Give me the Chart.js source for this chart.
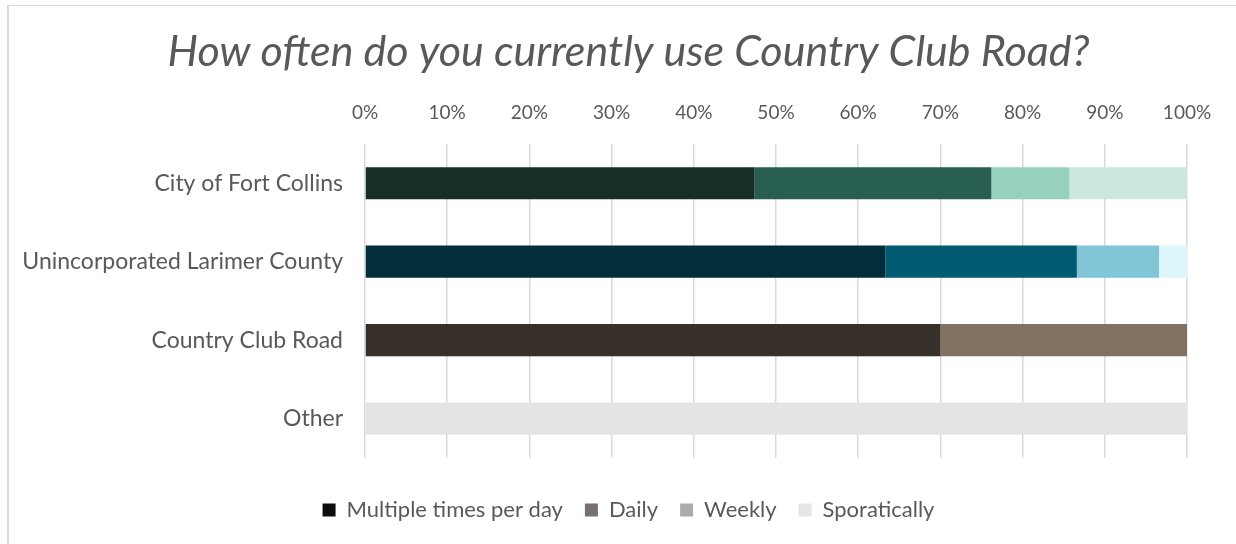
<!DOCTYPE html>
<html>
<head>
<meta charset="utf-8">
<script src="https://cdn.jsdelivr.net/npm/chart.js@4.4.1/dist/chart.umd.min.js"></script>
<style>
  html, body { margin: 0; padding: 0; background: #ffffff; overflow: hidden; }
  #frame { position: absolute; left: 7px; top: 5px; width: 1300px; height: 600px;
           border-left: 2px solid #d9d9d9; border-top: 1px solid #d9d9d9; box-sizing: border-box; }
  #c { position: absolute; left: 0; top: 0; }
</style>
</head>
<body>
<div id="frame"></div>
<canvas id="c" width="1236" height="544"></canvas>
<script>
const titleText = 'How often do you currently use Country Club Road?';
const categories = ['City of Fort Collins', 'Unincorporated Larimer County', 'Country Club Road', 'Other'];
const seriesNames = ['Multiple times per day', 'Daily', 'Weekly', 'Sporatically'];
const multipleTimes = [47.4, 63.3, 70.0, 0];
const daily = [28.8, 23.3, 30.0, 0];
const weekly = [9.5, 10.0, 0, 0];
const sporatically = [14.3, 3.4, 0, 100];
const xTickValues = [0, 10, 20, 30, 40, 50, 60, 70, 80, 90, 100];

// per-bar colours (each category has its own palette)
const multipleColors = ['#162e26', '#032d3a', '#372f29', '#e4e4e4'];
const dailyColors = ['#285e4f', '#005a70', '#837262', '#e4e4e4'];
const weeklyColors = ['#96d1bd', '#80c6d6', '#e4e4e4', '#e4e4e4'];
const sporaticColors = ['#cbe8df', '#dcf6fb', '#e4e4e4', '#e4e4e4'];
const legendColors = ['#0d0d0d', '#767171', '#aeabab', '#e7e6e6'];

const textColor = '#595959';
const FONT = 'Lato, "Open Sans", sans-serif';

const seriesValues = [multipleTimes, daily, weekly, sporatically];
const seriesColors = [multipleColors, dailyColors, weeklyColors, sporaticColors];

const datasets = seriesNames.map((name, i) => ({
  label: name,
  data: seriesValues[i],
  backgroundColor: seriesColors[i],
  borderWidth: 0,
  barPercentage: 0.41,
  categoryPercentage: 1.0
}));

new Chart(document.getElementById('c'), {
  type: 'bar',
  data: { labels: categories, datasets: datasets },
  options: {
    indexAxis: 'y',
    responsive: false,
    animation: false,
    layout: { padding: { left: 21, right: 0, top: 0, bottom: 13 } },
    plugins: {
      title: {
        display: true,
        text: titleText,
        color: textColor,
        font: { family: FONT, size: 43, style: 'italic', weight: 'normal', lineHeight: 1.2 },
        padding: { top: 26, bottom: 0 }
      },
      legend: {
        display: true,
        position: 'bottom',
        title: { display: true, text: '', font: { size: 1, lineHeight: 1.2 }, padding: 9 },
        labels: {
          color: textColor,
          font: { family: FONT, size: 22 },
          boxWidth: 13,
          boxHeight: 13,
          padding: 22,
          generateLabels: (chart) => seriesNames.map((n, i) => ({
            text: n,
            fillStyle: legendColors[i],
            strokeStyle: legendColors[i],
            lineWidth: 0,
            hidden: false,
            datasetIndex: i,
            fontColor: textColor
          }))
        }
      },
      tooltip: { enabled: false }
    },
    scales: {
      x: {
        position: 'top',
        stacked: true,
        min: 0,
        max: 100,
        afterBuildTicks: (scale) => { scale.ticks = xTickValues.map(v => ({ value: v })); },
        afterFit: (scale) => { scale.height = 144 - 26 - 43 * 1.2; },
        ticks: {
          color: textColor,
          font: { family: FONT, size: 19 },
          padding: 20,
          callback: (v) => v + '%'
        },
        grid: { color: '#d9d9d9', lineWidth: 1.5, drawTicks: false },
        border: { display: false }
      },
      y: {
        stacked: true,
        afterFit: (scale) => { scale.width = 365 - 21; },
        ticks: {
          color: textColor,
          font: { family: FONT, size: 23 },
          padding: 14
        },
        grid: { display: false },
        border: { display: false }
      },
      yRight: {
        type: 'category',
        labels: categories,
        position: 'right',
        afterFit: (scale) => { scale.width = 49; },
        ticks: { display: false },
        grid: { display: false, drawTicks: false },
        border: { display: false }
      }
    }
  }
});
</script>
</body>
</html>
